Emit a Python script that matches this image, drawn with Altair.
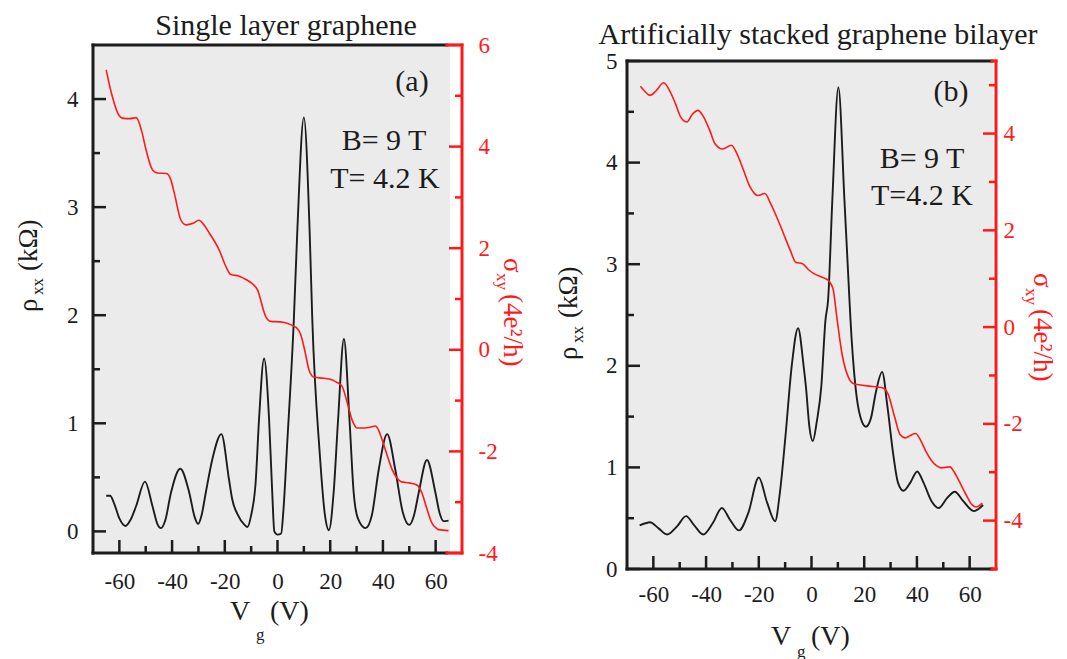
import altair as alt
import pandas as pd

# ---------------- data ----------------
A_RHO_VG = [-65.0, -63.5, -62.0, -60.0, -57.7, -55.7, -53.7, -50.3, -47.4, -45.6, -44.2, -42.6,
            -40.4, -36.9, -33.5, -31.4, -30.1, -28.8, -27.2, -24.7, -21.3, -18.4, -17.2, -15.0,
            -12.5, -11.4, -10.0, -8.3, -7.0, -5.1, -3.2, -2.0, -1.2, 0.0, 1.4, 2.2, 3.7, 6.2,
            7.5, 10.0, 12.2, 13.2, 16.0, 18.0, 19.5, 21.3, 23.0, 25.2, 27.3, 28.9, 30.5, 33.4,
            35.8, 38.4, 41.6, 44.7, 47.5, 50.0, 51.8, 53.6, 56.7, 59.9, 61.5, 63.0, 64.9]
A_RHO = [0.33, 0.33, 0.26, 0.12, 0.05, 0.11, 0.23, 0.46, 0.23, 0.07, 0.03, 0.10,
         0.36, 0.58, 0.36, 0.13, 0.07, 0.15, 0.36, 0.67, 0.90, 0.48, 0.30, 0.15,
         0.06, 0.04, 0.15, 0.45, 1.04, 1.60, 1.04, 0.36, 0.00, -0.03, -0.02, 0.18, 0.82, 1.96,
         2.77, 3.83, 2.77, 1.96, 0.73, 0.15, 0.01, 0.36, 1.04, 1.78, 1.04, 0.36, 0.12, 0.03,
         0.15, 0.57, 0.90, 0.57, 0.18, 0.06, 0.15, 0.36, 0.66, 0.36, 0.17, 0.095, 0.10]

A_SIG_VG = [-65.0, -63.0, -60.6, -58.8, -56.0, -53.6, -51.5, -49.9, -47.4, -45.5, -42.0, -40.5,
            -39.0, -36.7, -34.7, -32.0, -29.8, -27.8, -25.9, -22.0, -19.6, -17.7, -14.5, -11.8,
            -9.5, -7.6, -4.5, -2.6, 1.0, 3.9, 6.0, 7.5, 8.8, 10.5, 11.9, 13.2, 14.0, 17.5, 20.6,
            22.5, 24.5, 26.5, 28.3, 30.2, 33.0, 35.5, 37.2, 38.5, 39.7, 41.5, 43.5, 45.4, 47.0,
            50.0, 52.9, 54.8, 56.5, 58.6, 60.0, 61.1, 64.9]
A_SIG = [5.51, 5.05, 4.66, 4.56, 4.55, 4.57, 4.30, 3.94, 3.54, 3.48, 3.47, 3.35,
         3.05, 2.56, 2.46, 2.49, 2.55, 2.45, 2.30, 1.95, 1.64, 1.48, 1.45, 1.38,
         1.30, 1.18, 0.66, 0.56, 0.55, 0.52, 0.47, 0.42, 0.30, -0.05, -0.39, -0.52, -0.54, -0.56, -0.59,
         -0.64, -0.72, -1.05, -1.38, -1.54, -1.54, -1.52, -1.50, -1.60, -1.77, -2.06, -2.36, -2.53, -2.60,
         -2.62, -2.66, -2.82, -3.10, -3.41, -3.50, -3.54, -3.56]

B_RHO_VG = [-65.2, -63.0, -61.3, -58.0, -54.8, -51.0, -47.6, -44.5, -41.1, -37.5, -34.0, -30.8,
            -27.5, -24.0, -20.0, -16.8, -13.8, -12.0, -9.9, -7.5, -5.1, -3.0, -2.1, -0.8, 0.5,
            2.0, 3.7, 5.3, 6.3, 7.9, 10.2, 12.5, 14.4, 14.8, 16.7, 18.5, 20.6, 22.5, 24.5, 26.8,
            28.8, 31.0, 32.8, 34.9, 37.5, 40.1, 42.5, 45.5, 48.2, 51.5, 54.4, 57.5, 61.6, 65.1]
B_RHO = [0.43, 0.45, 0.46, 0.40, 0.34, 0.42, 0.52, 0.43, 0.34, 0.45, 0.60, 0.48,
         0.38, 0.55, 0.90, 0.65, 0.47, 0.75, 1.30, 2.00, 2.37, 2.00, 1.79, 1.40, 1.26,
         1.45, 1.79, 2.45, 2.65, 3.63, 4.74, 3.63, 2.65, 2.45, 1.79, 1.50, 1.40, 1.48, 1.75, 1.94,
         1.60, 1.13, 0.85, 0.77, 0.85, 0.96, 0.85, 0.67, 0.60, 0.70, 0.76, 0.67, 0.57, 0.63]

B_SIG_VG = [-64.9, -63.0, -61.3, -59.0, -56.1, -53.5, -51.5, -49.6, -47.3, -45.2, -43.1, -41.0,
            -38.5, -36.6, -33.7, -30.4, -28.0, -25.5, -23.6, -20.3, -17.7, -15.5, -13.0, -10.6,
            -8.0, -6.0, -3.4, -1.0, 1.1, 4.0, 6.3, 7.3, 8.3, 9.6, 11.5, 14.1, 16.0, 18.0, 22.0,
            25.0, 27.1, 29.1, 31.5, 33.6, 35.6, 37.5, 39.5, 41.5, 43.5, 45.3, 47.3, 49.2, 52.5,
            54.2, 55.7, 58.5, 60.9, 62.5, 64.8]
B_SIG = [4.98, 4.86, 4.79, 4.88, 5.05, 4.85, 4.60, 4.34, 4.24, 4.40, 4.48, 4.35,
         4.05, 3.79, 3.68, 3.76, 3.55, 3.20, 2.93, 2.72, 2.76, 2.55, 2.25, 1.93,
         1.58, 1.34, 1.31, 1.18, 1.10, 1.03, 0.97, 0.90, 0.76, 0.21, -0.53, -1.05, -1.17, -1.19, -1.22,
         -1.24, -1.26, -1.39, -1.85, -2.22, -2.29, -2.24, -2.20, -2.35, -2.58, -2.74, -2.86, -2.91, -2.89,
         -3.00, -3.15, -3.45, -3.67, -3.72, -3.64]

X_MAJOR = [-60, -40, -20, 0, 20, 40, 60]
X_MINOR = [-50, -30, -10, 10, 30, 50]
A_LEFT_MAJOR = [0, 1, 2, 3, 4]
A_LEFT_MINOR = [0.5, 1.5, 2.5, 3.5]
A_RIGHT_MAJOR = [-4, -2, 0, 2, 4, 6]
A_RIGHT_MINOR = [-3, -1, 1, 3, 5]
B_LEFT_MAJOR = [0, 1, 2, 3, 4, 5]
B_LEFT_MINOR = [0.5, 1.5, 2.5, 3.5, 4.5]
B_RIGHT_MAJOR = [-4, -2, 0, 2, 4]
B_RIGHT_MINOR = [-5, -3, -1, 1, 3, 5]

# ---------------- style ----------------
FONT = "Liberation Serif"
BLACK = "#1c1c1c"
RED = "#ff1a1a"
GRAY = "#ebebeb"
W = 369
H = 524
LABEL_EXPR = "datum.value + ''"


def one():
    return alt.Data(values=[{"k": 0}])


def txt(s, x, y, size, color=BLACK, angle=0, align="left"):
    return alt.Chart(one()).mark_text(
        text=s, font=FONT, fontSize=size, color=color, angle=angle,
        align=align, baseline="alphabetic"
    ).encode(x=alt.value(x), y=alt.value(y))


def hrule(x1, x2, y, color, w=3):
    return alt.Chart(one()).mark_rule(color=color, strokeWidth=w, strokeCap="square").encode(
        x=alt.value(x1), x2=alt.value(x2), y=alt.value(y))


def vrule(x, y1, y2, color, w=3):
    return alt.Chart(one()).mark_rule(color=color, strokeWidth=w, strokeCap="square").encode(
        x=alt.value(x), y=alt.value(y1), y2=alt.value(y2))


def panel(p):
    top, bot = p["top"], p["bot"]
    xs = alt.Scale(domain=[-70, 70], nice=False, zero=False)
    yl = alt.Scale(domain=p["ldom"], range=[bot, top], nice=False, zero=False)
    yr = alt.Scale(domain=p["rdom"], range=[bot, top], nice=False, zero=False)

    ax_x = alt.Axis(
        values=X_MAJOR, ticks=False, tickSize=0, domain=False, grid=False, title=None,
        labelExpr=LABEL_EXPR, labelFont=FONT, labelFontSize=23, labelColor=BLACK,
        labelPadding=p["xpad"], offset=p["xoff"])
    ax_l = alt.Axis(
        orient="left", values=p["lmaj"], ticks=False, tickSize=0, domain=False, grid=False,
        title=None, labelExpr=LABEL_EXPR, labelFont=FONT, labelFontSize=23,
        labelColor=BLACK, labelPadding=p["lpad"])
    ax_r = alt.Axis(
        orient="right", values=p["rmaj"], ticks=False, tickSize=0, domain=False, grid=False,
        title=None, labelExpr=LABEL_EXPR, labelFont=FONT, labelFontSize=23,
        labelColor=RED, labelPadding=p["rpad"])

    bg = alt.Chart(one()).mark_rect(color=GRAY).encode(
        x=alt.value(0), x2=alt.value(W - p["gap"]), y=alt.value(top), y2=alt.value(bot))

    black = alt.Chart(pd.DataFrame({"vg": p["bvg"], "rho": p["brho"]})).mark_line(
        color=BLACK, strokeWidth=1.9, interpolate="monotone"
    ).encode(
        x=alt.X("vg:Q", scale=xs, axis=ax_x),
        y=alt.Y("rho:Q", scale=yl, axis=ax_l),
        order=alt.Order("vg:Q"),
    )

    def xt(vals, ln):
        return alt.Chart(pd.DataFrame({"vg": vals})).mark_rule(color=BLACK, strokeWidth=2.5).encode(
            x=alt.X("vg:Q", scale=xs, axis=ax_x), y=alt.value(bot), y2=alt.value(bot - ln))

    def lt(vals, ln):
        return alt.Chart(pd.DataFrame({"rho": vals})).mark_rule(color=BLACK, strokeWidth=2.5).encode(
            y=alt.Y("rho:Q", scale=yl, axis=ax_l), x=alt.value(0), x2=alt.value(ln))

    def rt(vals, ln):
        return alt.Chart(pd.DataFrame({"sig": vals})).mark_rule(color=RED, strokeWidth=2.5).encode(
            y=alt.Y("sig:Q", scale=yr, axis=ax_r), x=alt.value(W), x2=alt.value(W - ln))

    red = alt.Chart(pd.DataFrame({"vg": p["rvg"], "sig": p["rsig"]})).mark_line(
        color=RED, strokeWidth=1.6, interpolate="monotone"
    ).encode(
        x=alt.X("vg:Q", scale=xs, axis=ax_x),
        y=alt.Y("sig:Q", scale=yr, axis=ax_r),
        order=alt.Order("vg:Q"),
    )

    rs = p["redseg"]
    frame = [
        vrule(0, top, bot, BLACK),
        hrule(0, W - rs, top, BLACK),
        hrule(0, W - rs, bot, BLACK),
        hrule(W - rs, W, top, RED),
        hrule(W - rs, W, bot, RED),
        vrule(W, top, bot, RED),
    ]

    texts = [txt(*t) for t in p["texts"]]

    left = alt.layer(bg, black, xt(X_MAJOR, 13), xt(X_MINOR, 7), lt(p["lmaj"], 13), lt(p["lmin"], 7))
    right = alt.layer(red, rt(p["rmaj"], 13), rt(p["rmin"], 7), *frame, *texts)
    return alt.layer(left, right).resolve_scale(y="independent").properties(width=W, height=H)


pa = dict(
    top=0, bot=508, gap=12, redseg=15, xoff=-16, xpad=17, lpad=15, rpad=16,
    ldom=[-0.2, 4.5], rdom=[-4, 6],
    lmaj=A_LEFT_MAJOR, lmin=A_LEFT_MINOR, rmaj=A_RIGHT_MAJOR, rmin=A_RIGHT_MINOR,
    bvg=A_RHO_VG, brho=A_RHO, rvg=A_SIG_VG, rsig=A_SIG,
    texts=[
        ("Single layer graphene", 193, -10, 30, BLACK, 0, "center"),
        ("(a)", 319, 46, 30, BLACK, 0, "center"),
        ("B= 9 T", 291, 105, 30, BLACK, 0, "center"),
        ("T= 4.2 K", 292, 143, 30, BLACK, 0, "center"),
        ("ρ", -56, 267, 27, BLACK, 270, "left"),
        ("xx", -50, 250, 17, BLACK, 270, "left"),
        ("(kΩ)", -56, 226, 27, BLACK, 270, "left"),
        ("σ", 411, 213, 27, RED, 90, "left"),
        ("xy", 404, 228, 17, RED, 90, "left"),
        ("(4e²/h)", 411, 249, 27, RED, 90, "left"),
        ("V", 137, 575, 28, BLACK, 0, "left"),
        ("g", 163, 595, 17, BLACK, 0, "left"),
        ("(V)", 177, 575, 28, BLACK, 0, "left"),
    ],
)

pb = dict(
    top=16, bot=524, gap=3, redseg=4, xoff=0, xpad=14, lpad=10, rpad=7,
    ldom=[0, 5], rdom=[-5, 5.5],
    lmaj=B_LEFT_MAJOR, lmin=B_LEFT_MINOR, rmaj=B_RIGHT_MAJOR, rmin=B_RIGHT_MINOR,
    bvg=B_RHO_VG, brho=B_RHO, rvg=B_SIG_VG, rsig=B_SIG,
    texts=[
        ("Artificially stacked graphene bilayer", 191, -1, 30, BLACK, 0, "center"),
        ("(b)", 324, 56, 30, BLACK, 0, "center"),
        ("B= 9 T", 295, 123, 30, BLACK, 0, "center"),
        ("T=4.2 K", 295, 160, 30, BLACK, 0, "center"),
        ("ρ", -50, 315, 27, BLACK, 270, "left"),
        ("xx", -44, 298, 17, BLACK, 270, "left"),
        ("(kΩ)", -50, 273, 27, BLACK, 270, "left"),
        ("σ", 407, 228, 27, RED, 90, "left"),
        ("xy", 399, 243, 17, RED, 90, "left"),
        ("(4e²/h)", 407, 264, 27, RED, 90, "left"),
        ("V", 144, 600, 28, BLACK, 0, "left"),
        ("g", 170, 612, 17, BLACK, 0, "left"),
        ("(V)", 184, 600, 28, BLACK, 0, "left"),
    ],
)

chart = alt.hconcat(panel(pa), panel(pb), spacing=29).properties(
    padding={"left": 7, "top": 3, "right": 3, "bottom": 0},
    background="white",
).configure_view(stroke=None)

chart.save("out.html", embed_options={"renderer": "svg", "actions": False})
